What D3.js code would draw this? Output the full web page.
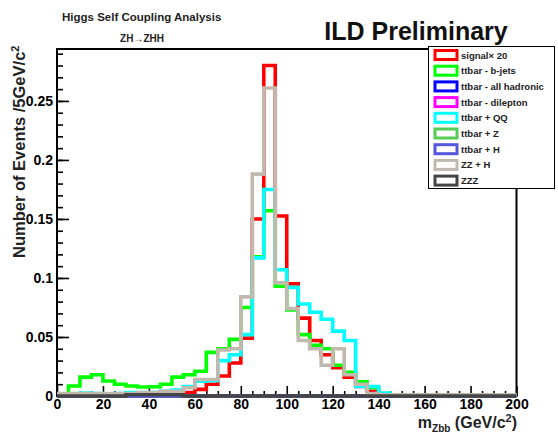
<!DOCTYPE html>
<html>
<head>
<meta charset="utf-8">
<script src="https://cdn.jsdelivr.net/npm/d3@7"></script>
<style>
  body { margin: 0; background: #fff; }
  text { font-family: "Liberation Sans", Arial, Helvetica, sans-serif; }
</style>
</head>
<body>
<svg id="chart" width="558" height="433"></svg>
<script>
// bins: 5 GeV wide, low edges
const binLow = [0, 5, 10, 15, 20, 25, 30, 35, 40, 45, 50, 55, 60, 65, 70, 75, 80, 85, 90, 95,
                100, 105, 110, 115, 120, 125, 130, 135, 140, 145, 150, 155, 160, 165, 170, 175, 180, 185, 190, 195];
const xMax = 200;

// histogram contents
const signal = [0, 0, 0, 0, 0, 0, 0, 0, 0, 0.001, 0.001, 0.003, 0.0056, 0.010, 0.017, 0.028, 0.049, 0.150, 0.280, 0.1525,
                0.095, 0.066, 0.047, 0.035, 0.024, 0.016, 0.008, 0.004, 0.001, 0, 0, 0, 0, 0, 0, 0, 0.001, 0.001, 0, 0];
const bjets = [0, 0.0085, 0.016, 0.018, 0.0127, 0.010, 0.0085, 0.0076, 0.0078, 0.0099, 0.016, 0.018, 0.021, 0.037, 0.040, 0.048, 0.075, 0.118, 0.157, 0.093,
               0.073, 0.052, 0.043, 0.040, 0.026, 0.020, 0.012, 0.007, 0.002, 0.001, 0.001, 0.001, 0.001, 0.001, 0, 0.001, 0.001, 0.001, 0.001, 0];
const allHadronic = [0, 0, 0, 0, 0, 0, 0, 0, 0, 0, 0, 0, 0, 0, 0, 0, 0, 0, 0, 0,
                     0, 0, 0, 0, 0, 0, 0, 0, 0, 0, 0, 0, 0, 0, 0, 0, 0, 0, 0, 0];
const dilepton = [0, 0, 0, 0, 0, 0, 0, 0, 0, 0, 0, 0, 0, 0, 0, 0, 0, 0, 0, 0,
                  0, 0, 0, 0, 0, 0, 0, 0, 0, 0, 0, 0, 0, 0, 0, 0, 0, 0, 0, 0];
const ttQQ = [0.001, 0.001, 0.0025, 0.002, 0.001, 0.002, 0.003, 0.003, 0.003, 0.004, 0.005, 0.008, 0.0125, 0.013, 0.030, 0.035, 0.052, 0.117, 0.175, 0.107,
              0.092, 0.078, 0.071, 0.065, 0.055, 0.047, 0.008, 0.008, 0.0025, 0.001, 0.001, 0.001, 0.001, 0.001, 0.001, 0.001, 0.001, 0.001, 0.001, 0.001];
const ttZ = [0, 0, 0, 0, 0, 0, 0, 0, 0, 0, 0, 0, 0, 0, 0, 0, 0, 0, 0, 0,
             0, 0, 0, 0, 0, 0, 0, 0, 0, 0, 0, 0, 0, 0, 0, 0, 0, 0, 0, 0];
const ttH = [0, 0, 0, 0, 0, 0, 0, 0, 0, 0, 0, 0, 0, 0, 0, 0, 0, 0, 0, 0,
             0, 0, 0, 0, 0, 0, 0, 0, 0, 0, 0, 0, 0, 0, 0, 0, 0, 0, 0, 0];
const zzh = [0.002, 0.002, 0.002, 0.002, 0.002, 0.002, 0.002, 0.003, 0.003, 0.004, 0.004, 0.007, 0.014, 0.014, 0.039, 0.040, 0.084, 0.188, 0.261, 0.096,
             0.074, 0.047, 0.040, 0.026, 0.040, 0.018, 0.010, 0.002, 0.001, 0.001, 0.001, 0.001, 0.001, 0.001, 0.001, 0.001, 0.001, 0.001, 0.001, 0.001];
const zzz = [0, 0, 0, 0, 0, 0, 0.001, 0.001, 0.001, 0.001, 0.001, 0, 0, 0, 0, 0, 0, 0, 0, 0,
             0, 0, 0, 0, 0, 0, 0, 0, 0, 0, 0, 0, 0, 0, 0, 0, 0, 0, 0, 0];

const seriesNames = ["signal\u00d7 20", "ttbar - b-jets", "ttbar - all hadronic", "ttbar - dilepton",
                     "ttbar + QQ", "ttbar + Z", "ttbar + H", "ZZ + H", "ZZZ"];
const seriesValues = [signal, bjets, allHadronic, dilepton, ttQQ, ttZ, ttH, zzh, zzz];
const seriesColors = ["#ff0000", "#00ff00", "#0000ff", "#ff00ff", "#00ffff", "#55cc55", "#5555dd", "#c2b9ae", "#444444"];

const xTicks = [0, 20, 40, 60, 80, 100, 120, 140, 160, 180, 200];
const xTickLabels = ["0", "20", "40", "60", "80", "100", "120", "140", "160", "180", "200"];
const yTicks = [0, 0.05, 0.1, 0.15, 0.2, 0.25];
const yTickLabels = ["0", "0.05", "0.1", "0.15", "0.2", "0.25"];
const yMax = 0.294;

// frame
const fL = 57, fR = 516.5, fT = 49, fB = 396;
const svg = d3.select("#chart");
const x = d3.scaleLinear().domain([0, xMax]).range([fL, fR]);
const y = d3.scaleLinear().domain([0, yMax]).range([fB, fT]);

svg.append("rect").attr("width", 558).attr("height", 433).attr("fill", "#fff");

svg.append("defs").append("clipPath").attr("id", "plotClip")
    .append("rect").attr("x", fL).attr("y", fT).attr("width", fR - fL).attr("height", fB - fT + 2);

// axes (ticks pointing inside like ROOT)
const xAxis = svg.append("g").attr("transform", `translate(0,${fB})`)
    .call(d3.axisBottom(x).tickValues(xTicks).tickSize(-10).tickPadding(3)
        .tickFormat((d, i) => xTickLabels[i]));
const xMinor = svg.append("g").attr("transform", `translate(0,${fB})`)
    .call(d3.axisBottom(x).tickValues(binLow.filter(v => v % 20 !== 0)).tickSize(-5).tickFormat(""));
const yAxis = svg.append("g").attr("transform", `translate(${fL},0)`)
    .call(d3.axisLeft(y).tickValues(yTicks).tickSize(-12).tickPadding(4)
        .tickFormat((d, i) => yTickLabels[i]));
const yMinor = svg.append("g").attr("transform", `translate(${fL},0)`)
    .call(d3.axisLeft(y).ticks(29).tickSize(-6).tickFormat(""));

[xAxis, xMinor, yAxis, yMinor].forEach(g => {
    g.select(".domain").remove();
    g.selectAll(".tick line").attr("stroke", "#000").attr("stroke-width", 1.6);
    g.selectAll(".tick text").attr("fill", "#000").attr("font-size", 14).attr("font-weight", "bold");
});

svg.append("rect").attr("x", fL).attr("y", fT).attr("width", fR - fL).attr("height", fB - fT)
    .attr("fill", "none").attr("stroke", "#000").attr("stroke-width", 2);

// histograms, in legend order
const line = d3.line().x(d => x(d[0])).y(d => y(d[1])).curve(d3.curveStepAfter);
const hg = svg.append("g").attr("clip-path", "url(#plotClip)");
seriesValues.forEach((vals, k) => {
    const pts = [[binLow[0], 0]].concat(binLow.map((b, i) => [b, vals[i]]),
        [[xMax, vals[vals.length - 1]], [xMax, 0]]);
    hg.append("path").datum(pts)
        .attr("d", line)
        .attr("fill", "none")
        .attr("stroke", seriesColors[k])
        .attr("stroke-width", 3.6)
        .attr("stroke-linejoin", "miter");
});

// titles
svg.append("text").attr("x", 62).attr("y", 21).attr("font-size", 11.5).attr("font-weight", "bold")
    .attr("fill", "#222").text("Higgs Self Coupling Analysis");
svg.append("text").attr("x", 142).attr("y", 42).attr("text-anchor", "middle").attr("font-size", 10)
    .attr("font-weight", "bold").attr("fill", "#222").text("ZH\u2192ZHH");
svg.append("text").attr("x", 416).attr("y", 40).attr("text-anchor", "middle").attr("font-size", 25)
    .attr("font-weight", "bold").attr("fill", "#111").text("ILD Preliminary");

// axis titles
const yl = svg.append("text").attr("transform", "translate(25,258) rotate(-90)")
    .attr("font-size", 16.5).attr("font-weight", "bold").attr("fill", "#222");
yl.append("tspan").text("Number of Events /5GeV/c");
yl.append("tspan").attr("dy", -6).attr("font-size", 11).text("2");

const xl = svg.append("text").attr("x", 517).attr("y", 428).attr("text-anchor", "end")
    .attr("font-size", 16).attr("font-weight", "bold").attr("fill", "#222");
xl.append("tspan").text("m");
xl.append("tspan").attr("dy", 4).attr("font-size", 10).text("Zbb");
xl.append("tspan").attr("dy", -4).text(" (GeV/c");
xl.append("tspan").attr("dy", -6).attr("font-size", 11).text("2");
xl.append("tspan").attr("dy", 6).text(")");

// legend
const lg = svg.append("g");
lg.append("rect").attr("x", 428.5).attr("y", 46.5).attr("width", 126).attr("height", 142)
    .attr("fill", "#fff").attr("stroke", "#000").attr("stroke-width", 1);
seriesNames.forEach((name, i) => {
    const cy = 55 + i * 15.7;
    lg.append("rect").attr("x", 435).attr("y", cy - 4.5).attr("width", 22).attr("height", 9)
        .attr("fill", "#fff").attr("stroke", seriesColors[i]).attr("stroke-width", 3);
    lg.append("text").attr("x", 461).attr("y", cy + 3.5).attr("font-size", 9.5).attr("font-weight", "bold")
        .attr("fill", "#222").text(name);
});
</script>
</body>
</html>
